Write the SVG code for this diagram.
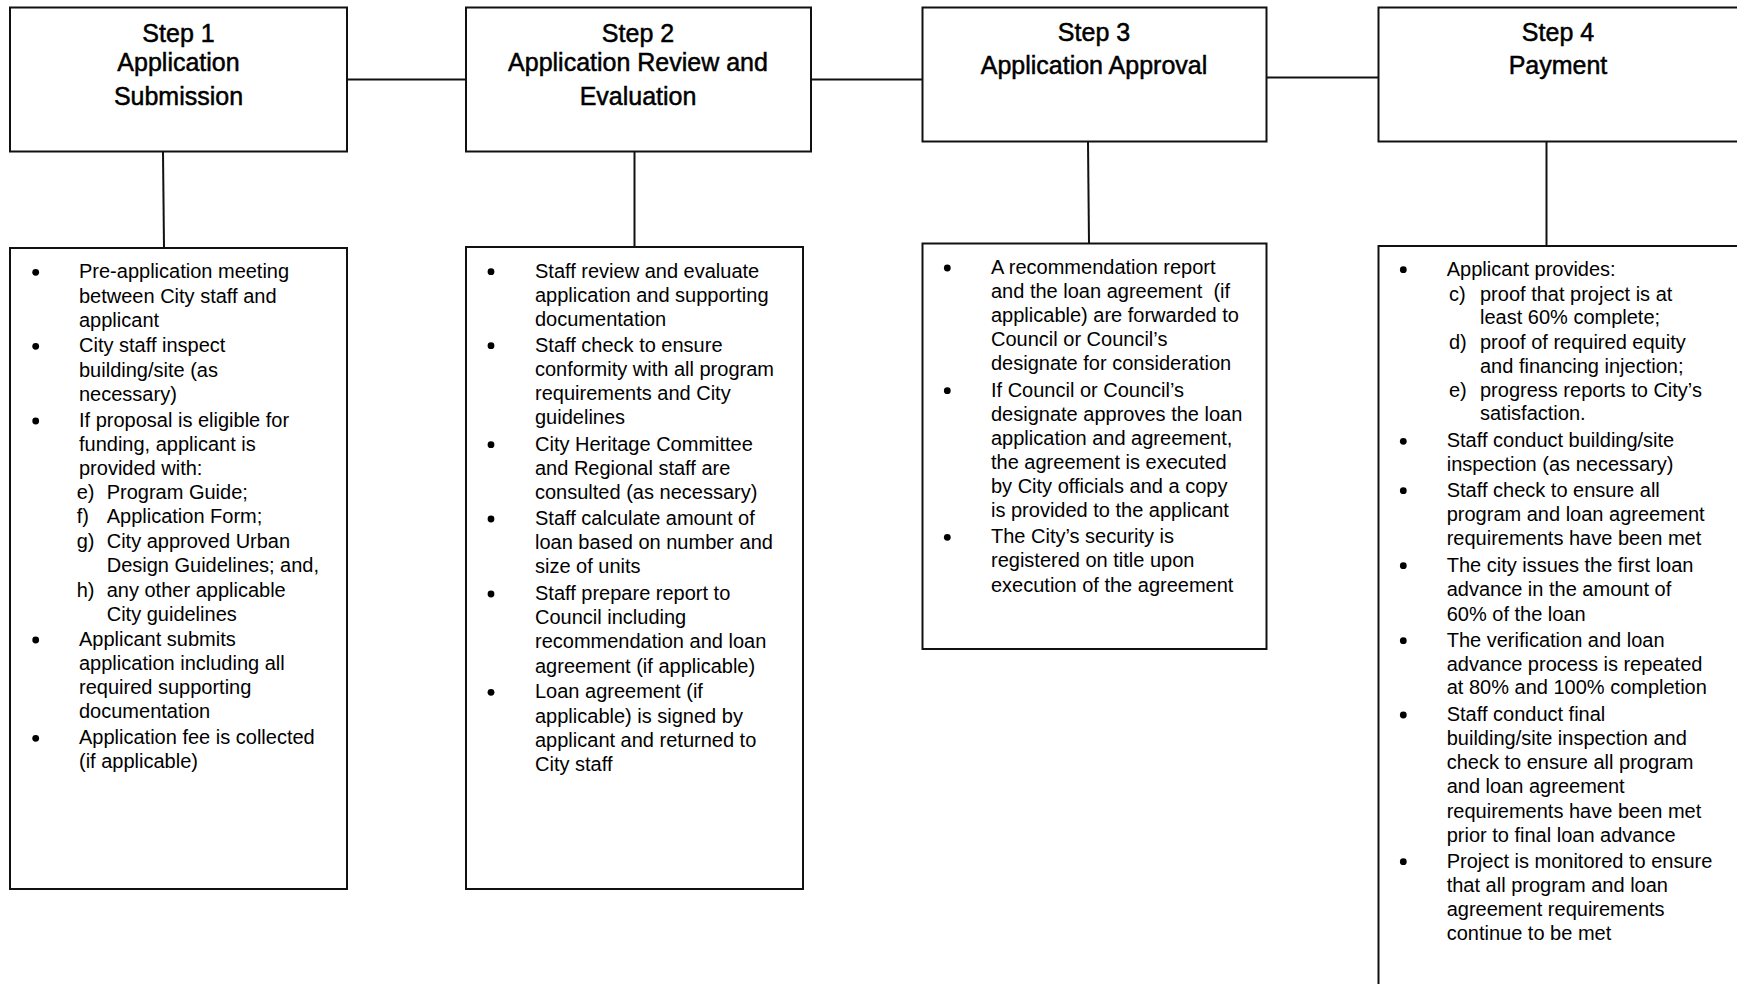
<svg xmlns="http://www.w3.org/2000/svg" width="1737" height="984" viewBox="0 0 1737 984">
<style>
.box{fill:#fff;stroke:#111;stroke-width:2}
.ln{stroke:#111;stroke-width:2;fill:none}
.h{font-family:"Liberation Sans",Arial,sans-serif;font-size:25px;fill:#000;stroke:#000;stroke-width:0.5;text-anchor:middle}
.t{font-family:"Liberation Sans",Arial,sans-serif;font-size:20px;fill:#000}
.b{fill:#000}
</style>
<rect width="1737" height="984" fill="#fff"/>
<g id="connectors">
<line class="ln" x1="347" y1="79.5" x2="466" y2="79.5"/>
<line class="ln" x1="811" y1="79.5" x2="922" y2="79.5"/>
<line class="ln" x1="1263" y1="77.5" x2="1378" y2="77.5"/>
<line class="ln" x1="163" y1="152" x2="164" y2="248"/>
<line class="ln" x1="634.5" y1="152" x2="634.5" y2="247"/>
<line class="ln" x1="1088" y1="142" x2="1089" y2="244"/>
<line class="ln" x1="1546.5" y1="138" x2="1546.5" y2="248"/>
</g>
<g id="step1">
<rect class="box" x="10" y="7.5" width="337" height="144"/>
<text class="h" x="178.5" y="41.5">Step 1</text>
<text class="h" x="178.5" y="71">Application</text>
<text class="h" x="178.5" y="105">Submission</text>
</g>
<g id="step2">
<rect class="box" x="466" y="7.5" width="345" height="144"/>
<text class="h" x="638" y="41.5">Step 2</text>
<text class="h" x="638" y="71">Application Review and</text>
<text class="h" x="638" y="105">Evaluation</text>
</g>
<g id="step3">
<rect class="box" x="922.5" y="7.5" width="344" height="134"/>
<text class="h" x="1094" y="41">Step 3</text>
<text class="h" x="1094" y="74">Application Approval</text>
</g>
<g id="step4">
<rect class="box" x="1378.5" y="7.5" width="362" height="134"/>
<text class="h" x="1558" y="41">Step 4</text>
<text class="h" x="1558" y="74">Payment</text>
</g>
<g id="details1">
<rect class="box" x="10" y="248" width="337" height="641"/>
<circle class="b" cx="35.7" cy="272.3" r="3.4"/>
<circle class="b" cx="35.7" cy="346.3" r="3.4"/>
<circle class="b" cx="35.7" cy="421" r="3.4"/>
<circle class="b" cx="35.7" cy="640" r="3.4"/>
<circle class="b" cx="35.7" cy="738.3" r="3.4"/>
<text class="t" x="79" y="278.3">Pre-application meeting</text>
<text class="t" x="79" y="302.5">between City staff and</text>
<text class="t" x="79" y="326.7">applicant</text>
<text class="t" x="79" y="352.3">City staff inspect</text>
<text class="t" x="79" y="376.5">building/site (as</text>
<text class="t" x="79" y="400.7">necessary)</text>
<text class="t" x="79" y="427">If proposal is eligible for</text>
<text class="t" x="79" y="451">funding, applicant is</text>
<text class="t" x="79" y="475">provided with:</text>
<text class="t" x="76.7" y="499.3">e)</text><text class="t" x="106.7" y="499.3">Program Guide;</text>
<text class="t" x="76.7" y="523.3">f)</text><text class="t" x="106.7" y="523.3">Application Form;</text>
<text class="t" x="76.7" y="548">g)</text><text class="t" x="106.7" y="548">City approved Urban</text>
<text class="t" x="106.7" y="572.3">Design Guidelines; and,</text>
<text class="t" x="76.7" y="596.7">h)</text><text class="t" x="106.7" y="596.7">any other applicable</text>
<text class="t" x="106.7" y="620.5">City guidelines</text>
<text class="t" x="79" y="646">Applicant submits</text>
<text class="t" x="79" y="670">application including all</text>
<text class="t" x="79" y="694.3">required supporting</text>
<text class="t" x="79" y="718.3">documentation</text>
<text class="t" x="79" y="744.3">Application fee is collected</text>
<text class="t" x="79" y="768.3">(if applicable)</text>
</g>
<g id="details2">
<rect class="box" x="466" y="247" width="337" height="642"/>
<circle class="b" cx="491" cy="271.7" r="3.4"/>
<circle class="b" cx="491" cy="345.7" r="3.4"/>
<circle class="b" cx="491" cy="444.7" r="3.4"/>
<circle class="b" cx="491" cy="519" r="3.4"/>
<circle class="b" cx="491" cy="594" r="3.4"/>
<circle class="b" cx="491" cy="692.3" r="3.4"/>
<text class="t" x="535" y="277.7">Staff review and evaluate</text>
<text class="t" x="535" y="301.7">application and supporting</text>
<text class="t" x="535" y="326">documentation</text>
<text class="t" x="535" y="351.7">Staff check to ensure</text>
<text class="t" x="535" y="375.5">conformity with all program</text>
<text class="t" x="535" y="400">requirements and City</text>
<text class="t" x="535" y="424.3">guidelines</text>
<text class="t" x="535" y="450.7">City Heritage Committee</text>
<text class="t" x="535" y="475">and Regional staff are</text>
<text class="t" x="535" y="499.3">consulted (as necessary)</text>
<text class="t" x="535" y="525">Staff calculate amount of</text>
<text class="t" x="535" y="549.3">loan based on number and</text>
<text class="t" x="535" y="573.3">size of units</text>
<text class="t" x="535" y="600">Staff prepare report to</text>
<text class="t" x="535" y="623.5">Council including</text>
<text class="t" x="535" y="648.3">recommendation and loan</text>
<text class="t" x="535" y="672.7">agreement (if applicable)</text>
<text class="t" x="535" y="698.3">Loan agreement (if</text>
<text class="t" x="535" y="722.7">applicable) is signed by</text>
<text class="t" x="535" y="746.7">applicant and returned to</text>
<text class="t" x="535" y="771">City staff</text>
</g>
<g id="details3">
<rect class="box" x="922.5" y="243.5" width="344" height="405.5"/>
<circle class="b" cx="947.3" cy="268" r="3.4"/>
<circle class="b" cx="947.3" cy="390.7" r="3.4"/>
<circle class="b" cx="947.3" cy="537.3" r="3.4"/>
<text class="t" x="991" y="274">A recommendation report</text>
<text class="t" x="991" y="298.3" xml:space="preserve">and the loan agreement  (if</text>
<text class="t" x="991" y="321.7">applicable) are forwarded to</text>
<text class="t" x="991" y="345.7">Council or Council’s</text>
<text class="t" x="991" y="370">designate for consideration</text>
<text class="t" x="991" y="396.7">If Council or Council’s</text>
<text class="t" x="991" y="420.7">designate approves the loan</text>
<text class="t" x="991" y="445">application and agreement,</text>
<text class="t" x="991" y="469.3">the agreement is executed</text>
<text class="t" x="991" y="493.3">by City officials and a copy</text>
<text class="t" x="991" y="517.3">is provided to the applicant</text>
<text class="t" x="991" y="543.3">The City’s security is</text>
<text class="t" x="991" y="567.3">registered on title upon</text>
<text class="t" x="991" y="592.3">execution of the agreement</text>
</g>
<g id="details4">
<rect class="box" x="1378.5" y="246" width="362" height="760"/>
<circle class="b" cx="1403.3" cy="269.7" r="3.4"/>
<circle class="b" cx="1403.3" cy="441.3" r="3.4"/>
<circle class="b" cx="1403.3" cy="490.7" r="3.4"/>
<circle class="b" cx="1403.3" cy="565.7" r="3.4"/>
<circle class="b" cx="1403.3" cy="640.7" r="3.4"/>
<circle class="b" cx="1403.3" cy="715" r="3.4"/>
<circle class="b" cx="1403.3" cy="861.7" r="3.4"/>
<text class="t" x="1446.7" y="275.7">Applicant provides:</text>
<text class="t" x="1449" y="300.7">c)</text><text class="t" x="1480" y="300.7">proof that project is at</text>
<text class="t" x="1480" y="324">least 60% complete;</text>
<text class="t" x="1449" y="349">d)</text><text class="t" x="1480" y="349">proof of required equity</text>
<text class="t" x="1480" y="372.7">and financing injection;</text>
<text class="t" x="1449" y="396.7">e)</text><text class="t" x="1480" y="396.7">progress reports to City’s</text>
<text class="t" x="1480" y="420">satisfaction.</text>
<text class="t" x="1446.7" y="447.3">Staff conduct building/site</text>
<text class="t" x="1446.7" y="471">inspection (as necessary)</text>
<text class="t" x="1446.7" y="496.7">Staff check to ensure all</text>
<text class="t" x="1446.7" y="520.7">program and loan agreement</text>
<text class="t" x="1446.7" y="545">requirements have been met</text>
<text class="t" x="1446.7" y="571.7">The city issues the first loan</text>
<text class="t" x="1446.7" y="595.5">advance in the amount of</text>
<text class="t" x="1446.7" y="620.7">60% of the loan</text>
<text class="t" x="1446.7" y="646.7">The verification and loan</text>
<text class="t" x="1446.7" y="671">advance process is repeated</text>
<text class="t" x="1446.7" y="694.3">at 80% and 100% completion</text>
<text class="t" x="1446.7" y="721">Staff conduct final</text>
<text class="t" x="1446.7" y="745">building/site inspection and</text>
<text class="t" x="1446.7" y="769.3">check to ensure all program</text>
<text class="t" x="1446.7" y="793.3">and loan agreement</text>
<text class="t" x="1446.7" y="817.7">requirements have been met</text>
<text class="t" x="1446.7" y="841.7">prior to final loan advance</text>
<text class="t" x="1446.7" y="867.7">Project is monitored to ensure</text>
<text class="t" x="1446.7" y="891.7">that all program and loan</text>
<text class="t" x="1446.7" y="916">agreement requirements</text>
<text class="t" x="1446.7" y="940">continue to be met</text>
</g>
</svg>
